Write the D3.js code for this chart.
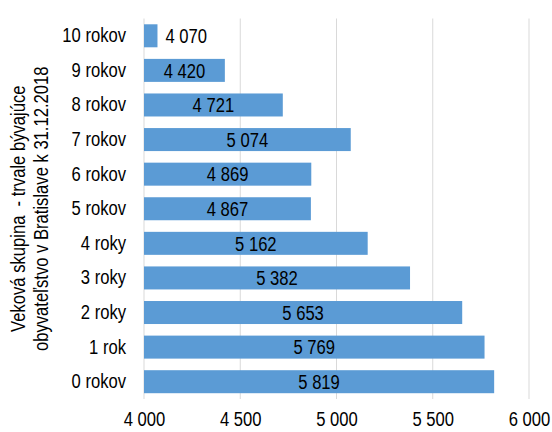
<!DOCTYPE html>
<html>
<head>
<meta charset="utf-8">
<script src="https://cdn.jsdelivr.net/npm/d3@7"></script>
<style>
  body { margin: 0; background: #fff; }
  text { font-family: "Liberation Sans", Arial, sans-serif; fill: #000; }
</style>
</head>
<body>
<div id="chart"></div>
<script>
// age groups, top to bottom as in the picture
var categories = ["10 rokov", "9 rokov", "8 rokov", "7 rokov", "6 rokov", "5 rokov",
                  "4 roky", "3 roky", "2 roky", "1 rok", "0 rokov"];
var values = [4070, 4420, 4721, 5074, 4869, 4867, 5162, 5382, 5653, 5769, 5819];
var xTicks = [4000, 4500, 5000, 5500, 6000];
var titleLines = ["Veková skupina  - trvale bývajúce", "obyvateľstvo v Bratislave k 31.12.2018"];

var width = 552, height = 432;
var margin = {top: 18.5, right: 23, bottom: 33, left: 144};
var innerW = width - margin.left - margin.right,
    innerH = height - margin.top - margin.bottom;
var fontSize = "20px", squeeze = 0.83;   // original uses a narrow font

var fmt = d3.formatLocale({decimal: ",", thousands: "\u00a0", grouping: [3], currency: ["", ""]}).format(",d");

var svg = d3.select("#chart").append("svg")
    .attr("width", width)
    .attr("height", height)
  .append("g")
    .attr("transform", "translate(" + margin.left + "," + margin.top + ")");

var x = d3.scaleLinear().domain([4000, 6000]).range([0, innerW]);
var y = d3.scaleBand().domain(categories).range([0, innerH])
    .paddingInner(0.335).paddingOuter(0.1675);

// gridlines
svg.append("g").selectAll("line")
    .data(xTicks)
  .enter().append("line")
    .attr("x1", function(d) { return x(d); })
    .attr("x2", function(d) { return x(d); })
    .attr("y1", 0)
    .attr("y2", innerH)
    .style("stroke", "#d9d9d9")
    .style("stroke-width", 1);

// x axis labels
var xAxis = svg.append("g")
    .attr("transform", "translate(0," + innerH + ")")
    .call(d3.axisBottom(x).tickValues(xTicks).tickSize(0).tickPadding(13).tickFormat(fmt));
xAxis.select(".domain").remove();
xAxis.selectAll("text").style("font-size", fontSize).style("font-family", null);

// y axis labels
var yAxis = svg.append("g")
    .call(d3.axisLeft(y).tickSize(0).tickPadding(18));
yAxis.select(".domain").remove();
yAxis.selectAll("text").style("font-size", fontSize).style("font-family", null);

// bars
svg.selectAll(".bar")
    .data(values)
  .enter().append("rect")
    .attr("class", "bar")
    .attr("x", 0)
    .attr("y", function(d, i) { return y(categories[i]); })
    .attr("width", function(d) { return x(d); })
    .attr("height", y.bandwidth())
    .style("fill", "#5b9bd5");

// value labels: centered in bar, or just outside when the bar is too short
svg.selectAll(".val")
    .data(values)
  .enter().append("text")
    .attr("class", "val")
    .attr("x", function(d) { return x(d) < 60 ? x(d) + 8 : x(d) / 2; })
    .attr("y", function(d, i) { return y(categories[i]) + y.bandwidth() / 2; })
    .attr("dy", "0.36em")
    .style("text-anchor", function(d) { return x(d) < 60 ? "start" : "middle"; })
    .style("font-size", fontSize)
    .text(function(d) { return fmt(d); });

// y title, two rotated lines
var title = d3.select("svg").append("text")
    .attr("transform", "translate(0," + (margin.top + innerH / 2) + ") rotate(-90)")
    .style("text-anchor", "middle")
    .style("font-size", fontSize);
title.selectAll("tspan")
    .data(titleLines)
  .enter().append("tspan")
    .attr("x", 0)
    .attr("y", function(d, i) { return 25 + i * 23; })
    .style("white-space", "pre")
    .text(function(d) { return d; });

// squeeze all text horizontally to mimic the narrow font
d3.selectAll("svg text").filter(function() { return !this.querySelector("tspan"); })
  .each(function() {
    var len = this.getComputedTextLength();
    d3.select(this).attr("textLength", len * squeeze).attr("lengthAdjust", "spacingAndGlyphs");
  });
title.selectAll("tspan").each(function() {
  var len = this.getComputedTextLength();
  d3.select(this).attr("textLength", len * squeeze).attr("lengthAdjust", "spacingAndGlyphs");
});
</script>
</body>
</html>
